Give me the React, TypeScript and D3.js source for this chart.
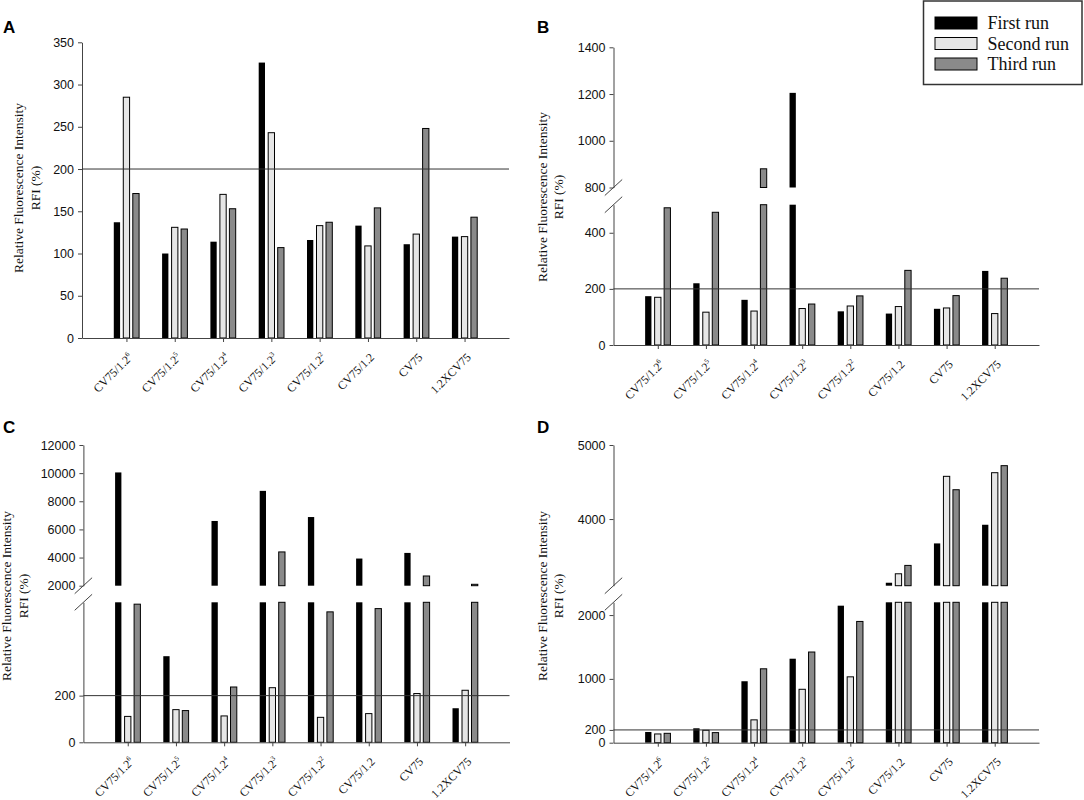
import React, { useEffect, useRef } from "react";
import * as d3 from "d3";

// groups on the x axis ("^" marks the exponent that is drawn as superscript)
const categories = [
  "CV75/1.2^6",
  "CV75/1.2^5",
  "CV75/1.2^4",
  "CV75/1.2^3",
  "CV75/1.2^2",
  "CV75/1.2",
  "CV75",
  "1.2XCV75",
];
const seriesNames = ["First run", "Second run", "Third run"];

// panel A
const aFirst = [137, 100, 114, 326, 116, 133, 111, 120];
const aSecond = [285, 131, 170, 243, 133, 109, 123, 120];
const aThird = [171, 129, 153, 107, 137, 154, 248, 143];
const aTicks = [0, 50, 100, 150, 200, 250, 300, 350];

// panel B
const bFirst = [174, 220, 161, 1205, 120, 112, 129, 264];
const bSecond = [170, 117, 121, 130, 139, 137, 132, 112];
const bThird = [489, 473, 880, 146, 175, 266, 176, 238];
const bLowTicks = [0, 200, 400];
const bHighTicks = [800, 1000, 1200, 1400];

// panel C
const cFirst = [10050, 369, 6600, 8740, 6880, 3930, 4330, 146];
const cSecond = [111, 140, 113, 234, 107, 123, 209, 223];
const cThird = [592, 136, 237, 4400, 559, 573, 2690, 2100];
const cLowTicks = [0, 200];
const cHighTicks = [2000, 4000, 6000, 8000, 10000, 12000];

// panel D
const dFirst = [168, 226, 963, 1316, 2147, 3140, 3671, 3923];
const dSecond = [137, 195, 358, 837, 1032, 3261, 4577, 4626];
const dThird = [147, 158, 1158, 1421, 1900, 3374, 4396, 4721];
const dLowTicks = [0, 200, 1000, 2000];
const dHighTicks = [4000, 5000];

const threshold = 200;

const fills = ["#000000", "#e6e6e6", "#8a8a8a"];
const serif = "'Liberation Serif', 'Times New Roman', serif";
const sans = "'Liberation Sans', Arial, sans-serif";

interface Segment {
  domain: [number, number];
  range: [number, number];
  ticks: number[];
}

interface Panel {
  letter: string;
  letterX: number;
  letterY: number;
  x0: number;
  x1: number;
  titleX: [number, number];
  titleY: number;
  series: number[][];
  segments: Segment[];
}

const panels: Panel[] = [
  {
    letter: "A",
    letterX: 3,
    letterY: 33,
    x0: 82,
    x1: 509,
    titleX: [23, 39.5],
    titleY: 188,
    series: [aFirst, aSecond, aThird],
    segments: [{ domain: [0, 350], range: [338, 42.3], ticks: aTicks }],
  },
  {
    letter: "B",
    letterX: 537,
    letterY: 33,
    x0: 613.5,
    x1: 1039,
    titleX: [546.5, 563],
    titleY: 197,
    series: [bFirst, bSecond, bThird],
    segments: [
      { domain: [0, 500], range: [345, 204.7], ticks: bLowTicks },
      { domain: [800, 1400], range: [187.5, 47.3], ticks: bHighTicks },
    ],
  },
  {
    letter: "C",
    letterX: 3,
    letterY: 433,
    x0: 83.4,
    x1: 509.5,
    titleX: [10.5, 28],
    titleY: 596,
    series: [cFirst, cSecond, cThird],
    segments: [
      { domain: [0, 600], range: [742.3, 602.3], ticks: cLowTicks },
      { domain: [2000, 12000], range: [585.7, 445], ticks: cHighTicks },
    ],
  },
  {
    letter: "D",
    letterX: 537,
    letterY: 433,
    x0: 613.5,
    x1: 1039,
    titleX: [546.5, 563],
    titleY: 596,
    series: [dFirst, dSecond, dThird],
    segments: [
      { domain: [0, 2200], range: [742.7, 602.3], ticks: dLowTicks },
      { domain: [3100, 5000], range: [585.7, 445], ticks: dHighTicks },
    ],
  },
];

const App: React.FC = () => {
  const svgRef = useRef<SVGSVGElement>(null);

  useEffect(() => {
    const svg = d3.select(svgRef.current);
    svg.selectAll("*").remove();

    panels.forEach((p) => {
      const g = svg.append("g");

      const x = d3
        .scalePoint<string>()
        .domain(categories)
        .range([p.x0, p.x1])
        .padding(0.92);
      const xs = d3
        .scaleBand<number>()
        .domain([0, 1, 2])
        .range([-12.65, 12.65])
        .paddingInner(0.337);

      const segs = p.segments.map((s) => ({
        ...s,
        y: d3.scaleLinear().domain(s.domain).range(s.range),
      }));
      const y0 = segs[0].y(0);

      // bars, split over the axis segments
      p.series.forEach((values, k) => {
        values.forEach((v, i) => {
          segs.forEach((s) => {
            const lo = s.domain[0];
            if (v <= lo) return;
            const top = Math.min(v, s.domain[1]);
            g.append("rect")
              .attr("x", x(categories[i])! + xs(k)!)
              .attr("y", s.y(top))
              .attr("width", xs.bandwidth())
              .attr("height", s.y(lo) - s.y(top))
              .attr("fill", fills[k])
              .attr("stroke", "#000")
              .attr("stroke-width", k === 0 ? 0 : 1);
          });
        });
      });

      // y axis segments
      segs.forEach((s) => {
        const ax = g
          .append("g")
          .attr("transform", `translate(${p.x0},0)`)
          .call(
            d3
              .axisLeft(s.y)
              .tickValues(s.ticks)
              .tickFormat(d3.format("d"))
              .tickSize(4)
              .tickSizeOuter(0)
              .tickPadding(4)
          );
        ax.selectAll("path, line").attr("stroke", "#444");
        ax.selectAll("text")
          .attr("font-family", sans)
          .attr("font-size", 12.5)
          .attr("fill", "#111");
      });

      // break marks
      if (segs.length > 1) {
        [segs[0].range[1], segs[1].range[0]].forEach((yb) => {
          g.append("line")
            .attr("x1", p.x0 - 8.7)
            .attr("y1", yb + 8)
            .attr("x2", p.x0 + 8.7)
            .attr("y2", yb - 8)
            .attr("stroke", "#444");
        });
      }

      // x axis
      const xa = g
        .append("g")
        .attr("transform", `translate(0,${y0})`)
        .call(
          d3
            .axisBottom(x)
            .tickSize(4)
            .tickSizeOuter(0)
            .tickFormat(() => "")
        );
      xa.selectAll("path, line").attr("stroke", "#444");

      // 200% line
      g.append("line")
        .attr("x1", p.x0)
        .attr("x2", p.x1)
        .attr("y1", segs[0].y(threshold))
        .attr("y2", segs[0].y(threshold))
        .attr("stroke", "#333");

      // category labels
      categories.forEach((c) => {
        const [base, exp] = c.split("^");
        const t = g
          .append("text")
          .attr("transform", `translate(${x(c)! + 7},${y0 + 20}) rotate(-45)`)
          .attr("text-anchor", "end")
          .attr("font-family", serif)
          .attr("font-size", 11.8)
          .attr("fill", "#111");
        t.append("tspan").text(base);
        if (exp) {
          t.append("tspan").attr("dy", -5).attr("font-size", 7).text(exp);
        }
      });

      // axis title
      const title = g
        .append("g")
        .attr("font-family", serif)
        .attr("font-size", 13.5)
        .attr("fill", "#111")
        .attr("text-anchor", "middle");
      title
        .append("text")
        .attr("transform", `translate(${p.titleX[0]},${p.titleY}) rotate(-90)`)
        .text("Relative Fluorescence Intensity");
      title
        .append("text")
        .attr("transform", `translate(${p.titleX[1]},${p.titleY}) rotate(-90)`)
        .text("RFI (%)");

      // panel letter
      g.append("text")
        .attr("x", p.letterX)
        .attr("y", p.letterY)
        .attr("font-family", sans)
        .attr("font-weight", "bold")
        .attr("font-size", 17)
        .text(p.letter);
    });

    // legend
    const lg = svg.append("g");
    lg.append("rect")
      .attr("x", 923.5)
      .attr("y", 1)
      .attr("width", 158.5)
      .attr("height", 83.5)
      .attr("fill", "#fff")
      .attr("stroke", "#333")
      .attr("stroke-width", 1.5);
    seriesNames.forEach((name, k) => {
      lg.append("rect")
        .attr("x", 935)
        .attr("y", 17 + k * 20.5)
        .attr("width", 42)
        .attr("height", 12)
        .attr("fill", fills[k])
        .attr("stroke", "#000")
        .attr("stroke-width", 1);
      lg.append("text")
        .attr("x", 987.5)
        .attr("y", 29 + k * 20.5)
        .attr("font-family", serif)
        .attr("font-size", 18)
        .attr("fill", "#111")
        .text(name);
    });
  }, []);

  return (
    <div>
      <svg
        ref={svgRef}
        width={1084}
        height={800}
        style={{ position: "absolute", left: 0, top: 0, background: "#fff" }}
      ></svg>
    </div>
  );
};

export default App;
